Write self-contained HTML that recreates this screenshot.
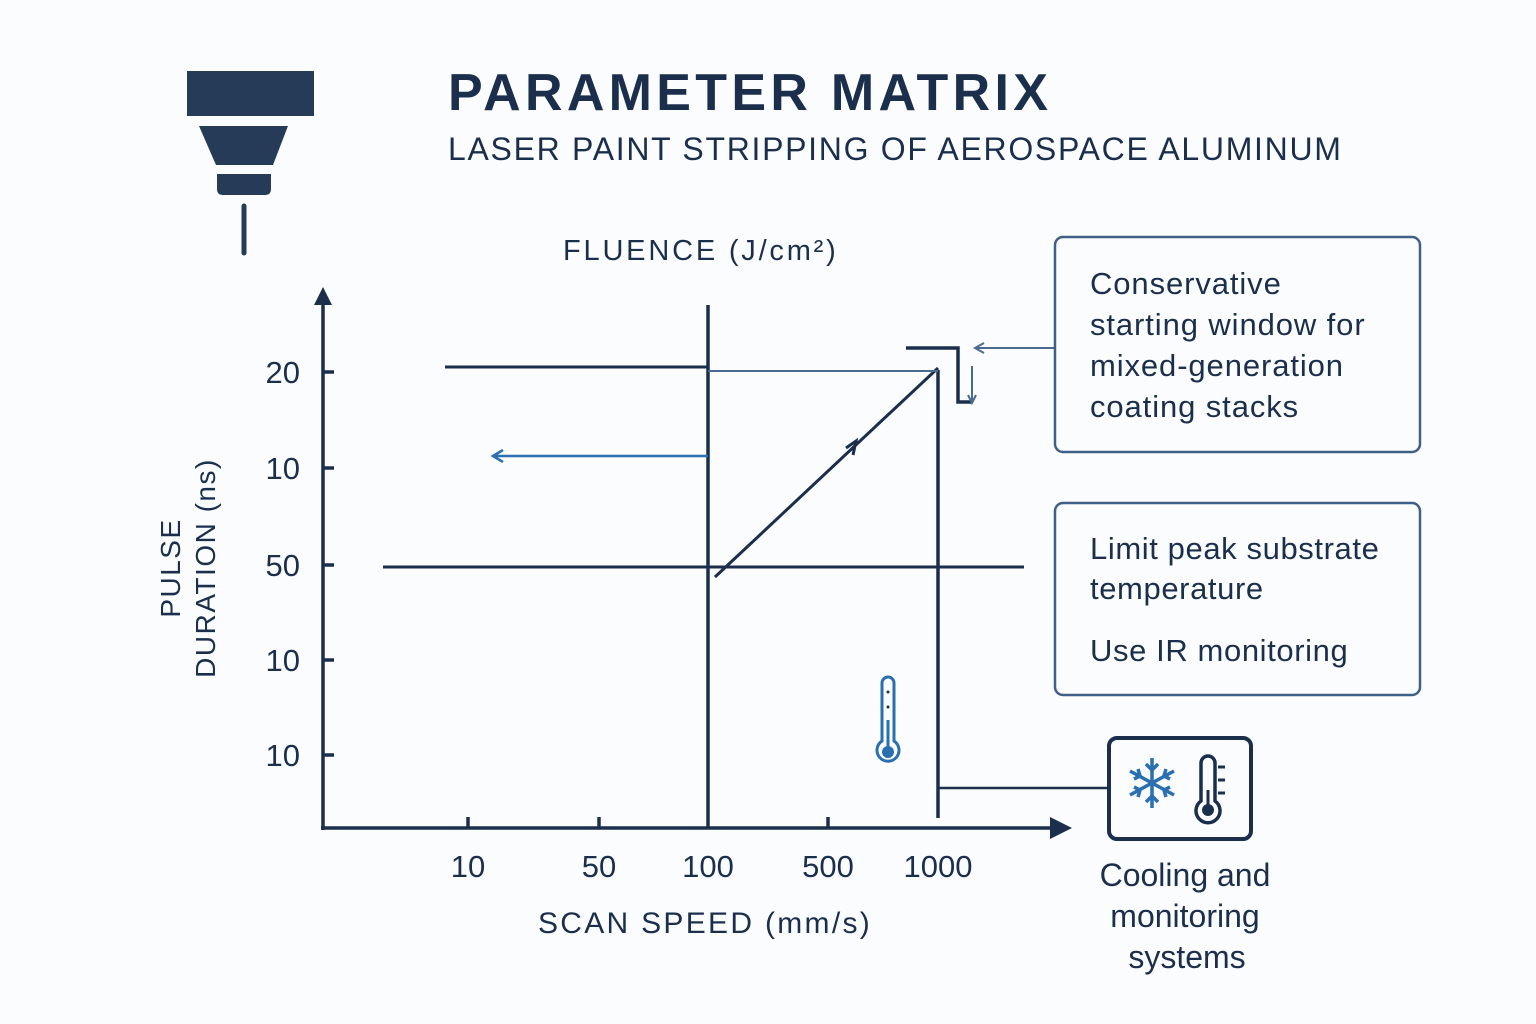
<!DOCTYPE html>
<html><head><meta charset="utf-8"><style>
html,body{margin:0;padding:0;background:#fbfcfd;}
svg{display:block}
text{font-family:"Liberation Sans","DejaVu Sans",sans-serif;fill:#1b2f4c}
</style></head><body>
<svg width="1536" height="1024" viewBox="0 0 1536 1024" xmlns="http://www.w3.org/2000/svg">
<rect width="1536" height="1024" fill="#fbfcfd"/>
<rect x="187" y="71" width="127" height="45" fill="#263b58"/>
<polygon points="199,126 288,126 273,165 216,165" fill="#263b58"/>
<path d="M217,174 H271 V189 Q271,195 265,195 H223 Q217,195 217,189 Z" fill="#263b58"/>
<line x1="244" y1="206" x2="244" y2="253" stroke="#263b58" stroke-width="5" stroke-linecap="round"/>
<text x="448" y="110" font-size="52" font-weight="bold" letter-spacing="4.3">PARAMETER MATRIX</text>
<text x="448" y="160" font-size="32" letter-spacing="1.7">LASER PAINT STRIPPING OF AEROSPACE ALUMINUM</text>
<text x="563" y="260" font-size="29" letter-spacing="2.8">FLUENCE (J/cm²)</text>
<g stroke="#1b2f4c" stroke-width="3.5" fill="none">
<line x1="323" y1="300" x2="323" y2="830"/>
<line x1="321" y1="828" x2="1050" y2="828"/>
<line x1="323" y1="372" x2="334" y2="372"/><line x1="323" y1="468" x2="334" y2="468"/>
<line x1="323" y1="565" x2="334" y2="565"/><line x1="323" y1="660" x2="334" y2="660"/>
<line x1="323" y1="755" x2="334" y2="755"/>
<line x1="468" y1="828" x2="468" y2="817"/><line x1="599" y1="828" x2="599" y2="817"/>
<line x1="828" y1="828" x2="828" y2="817"/>
<line x1="445" y1="367" x2="708" y2="367" stroke-width="3"/>
<line x1="383" y1="567" x2="1024" y2="567" stroke-width="3"/>
<line x1="708" y1="305" x2="708" y2="828"/>
<line x1="938" y1="370" x2="938" y2="818"/>
<line x1="715" y1="577" x2="938" y2="368" stroke-width="3"/>
<polyline points="906,348 958,348 958,402 972,402" stroke-width="3.5"/>
<line x1="938" y1="788" x2="1108" y2="788" stroke-width="2.5"/>
</g>
<line x1="708" y1="371" x2="938" y2="371" stroke="#4a6a90" stroke-width="2"/>
<polyline points="846,448 856,441 853,455" fill="none" stroke="#1b2f4c" stroke-width="3"/>
<polygon points="323,287 314,305 332,305" fill="#1b2f4c"/>
<polygon points="1072,828 1050,817 1050,839" fill="#1b2f4c"/>
<line x1="708" y1="456" x2="495" y2="456" stroke="#2a6fb0" stroke-width="2.5"/>
<polyline points="503,450 493,456 503,462" fill="none" stroke="#2a6fb0" stroke-width="2.5"/>
<line x1="1055" y1="348" x2="976" y2="348" stroke="#4a6a90" stroke-width="2"/>
<polyline points="984,343 975,348 984,353" fill="none" stroke="#4a6a90" stroke-width="2"/>
<line x1="972" y1="366" x2="972" y2="402" stroke="#4a6a90" stroke-width="2"/>
<polyline points="968,395 972,403 976,395" fill="none" stroke="#4a6a90" stroke-width="2"/>
<g font-size="31" text-anchor="end">
<text x="300" y="383">20</text><text x="300" y="479">10</text><text x="300" y="576">50</text>
<text x="300" y="671">10</text><text x="300" y="766">10</text>
</g>
<g font-size="31" text-anchor="middle">
<text x="468" y="877">10</text><text x="599" y="877">50</text><text x="708" y="877">100</text>
<text x="828" y="877">500</text><text x="938" y="877">1000</text>
</g>
<text x="705" y="933" font-size="30" text-anchor="middle" letter-spacing="2.3">SCAN SPEED (mm/s)</text>
<g transform="translate(180,568) rotate(-90)" font-size="28" text-anchor="middle" letter-spacing="1.5">
<text x="0" y="0">PULSE</text><text x="0" y="35">DURATION (ns)</text>
</g>
<rect x="1055" y="237" width="365" height="215" rx="8" fill="none" stroke="#3e5f86" stroke-width="2.5"/>
<g font-size="31" letter-spacing="0.9"><text x="1090" y="294">Conservative</text><text x="1090" y="335">starting window for</text>
<text x="1090" y="376">mixed-generation</text><text x="1090" y="417">coating stacks</text></g>
<rect x="1055" y="503" width="365" height="192" rx="8" fill="none" stroke="#3e5f86" stroke-width="2.5"/>
<g font-size="31" letter-spacing="0.6"><text x="1090" y="559">Limit peak substrate</text><text x="1090" y="599">temperature</text>
<text x="1090" y="661">Use IR monitoring</text></g>
<rect x="1109" y="738" width="142" height="101" rx="8" fill="#fbfcfd" stroke="#1b2f4c" stroke-width="4"/>
<g stroke="#2a6fb0" stroke-width="3.5" fill="none" transform="translate(1152,783)">
<line x1="0" y1="-25" x2="0" y2="25"/><line x1="-22" y1="-12" x2="22" y2="12"/><line x1="-22" y1="12" x2="22" y2="-12"/>
<polyline points="-6,-19 0,-13 6,-19"/><polyline points="-6,19 0,13 6,19"/>
<polyline points="-18,-4 -12,-7 -14,-14" /><polyline points="18,4 12,7 14,14"/>
<polyline points="-18,4 -12,7 -14,14"/><polyline points="18,-4 12,-7 14,-14"/>
</g>
<path d="M1201,801 V763 a7,7 0 0 1 14,0 V801 a12,12 0 1 1 -14,0 Z" fill="none" stroke="#1b2f4c" stroke-width="3.5"/>
<circle cx="1208" cy="810" r="6" fill="#1b2f4c"/><line x1="1208" y1="790" x2="1208" y2="808" stroke="#1b2f4c" stroke-width="3"/>
<g stroke="#1b2f4c" stroke-width="3"><line x1="1218" y1="767" x2="1225" y2="767"/><line x1="1218" y1="780" x2="1225" y2="780"/><line x1="1218" y1="793" x2="1225" y2="793"/></g>
<path d="M882,741 V683 a6,6 0 0 1 12,0 V741 a11,11 0 1 1 -12,0 Z" fill="none" stroke="#2a6fb0" stroke-width="3"/>
<circle cx="888" cy="752" r="6" fill="#2a6fb0"/><line x1="888" y1="720" x2="888" y2="750" stroke="#2a6fb0" stroke-width="3"/>
<circle cx="888" cy="692" r="1.5" fill="#1b2f4c"/><circle cx="888" cy="707" r="1.5" fill="#1b2f4c"/>
<g font-size="32" text-anchor="middle"><text x="1185" y="886">Cooling and</text><text x="1185" y="927">monitoring</text><text x="1187" y="968">systems</text></g>
</svg>
</body></html>
